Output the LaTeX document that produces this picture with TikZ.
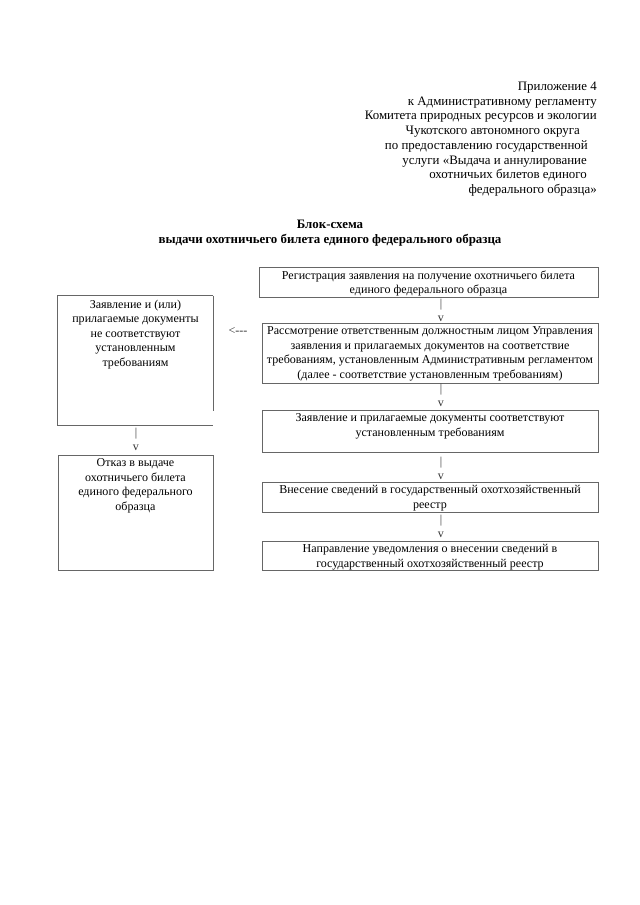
\documentclass[tikz,border=0pt]{standalone}
\usepackage{fontspec}
\setmainfont{Liberation Serif}
\usetikzlibrary{fit}

\tikzset{
  box/.style={draw=black!60, line width=0.7pt, inner sep=0pt, fit={#1}},
  frame/.style={inner sep=0pt, fit={#1}},
  edge/.style={draw=black!60, line width=0.7pt},
  txt/.style={font=\fontsize{12pt}{13.6pt}\selectfont, align=center, inner sep=0pt},
  boxtxt/.style={txt, font=\fontsize{11.2pt}{13.5pt}\selectfont, anchor=north, yshift=-3.5pt},
  head/.style={txt, anchor=base east},
  sign/.style={txt, font=\fontsize{11.2pt}{13.5pt}\selectfont, text=black!80}
}

\begin{document}
\begin{tikzpicture}[x=0.9301pt, y=-0.9301pt]
  \useasboundingbox (0,0) rectangle (640,905);

  % header
  \node[head] (h1) at (597,90) {Приложение 4};
  \node[head] (h2) at (597,105) {к Административному регламенту};
  \node[head] (h3) at (597,119) {Комитета природных ресурсов и экологии};
  \node[head] (h4) at (580,134) {Чукотского автономного округа};
  \node[head] (h5) at (588,149) {по предоставлению государственной};
  \node[head] (h6) at (587,164) {услуги «Выдача и аннулирование};
  \node[head] (h7) at (587,178) {охотничьих билетов единого};
  \node[head] (h8) at (597,193) {федерального образца»};

  % title
  \node[txt, font=\fontsize{12pt}{13.6pt}\selectfont\bfseries] (title) at (330,233)
    {Блок-схема\\выдачи охотничьего билета единого федерального образца};

  % right column
  \node[box={(259,267) (598,297)}] (r1) {};
  \node[boxtxt] (r1t) at (r1.north) {Регистрация заявления на получение охотничьего билета\\единого федерального образца};
  \node[box={(262,323) (598,383)}] (r2) {};
  \node[boxtxt] (r2t) at (r2.north) {Рассмотрение ответственным должностным лицом Управления\\заявления и прилагаемых документов на соответствие\\требованиям, установленным Административным регламентом\\(далее - соответствие установленным требованиям)};
  \node[box={(262,410) (598,452)}] (r3) {};
  \node[boxtxt] (r3t) at (r3.north) {Заявление и прилагаемые документы соответствуют\\установленным требованиям};
  \node[box={(262,482) (598,512)}] (r4) {};
  \node[boxtxt] (r4t) at (r4.north) {Внесение сведений в государственный охотхозяйственный\\реестр};
  \node[box={(262,541) (598,570)}] (r5) {};
  \node[boxtxt] (r5t) at (r5.north) {Направление уведомления о внесении сведений в\\государственный охотхозяйственный реестр};

  % left column
  \node[frame={(58,296) (213,425)}] (l1) {};
  \draw[edge] (l1.north east) -- (l1.north west)
    -- (l1.south west) -- (l1.south east);
  \draw[edge] (l1.north east) -- ([yshift=13pt]l1.south east);
  \node[boxtxt] (l1t) at (l1.north) {Заявление и (или)\\прилагаемые документы\\не соответствуют\\установленным\\требованиям};
  \node[box={(58,455) (213,570)}] (l2) {};
  \node[boxtxt] (l2t) at (l2.north) {Отказ в выдаче\\охотничьего билета\\единого федерального\\образца};

  % text arrows
  \node[sign] (p1) at (441,305) {|};
  \node[sign] (v1) at (441,319) {v};
  \node[sign] (p2) at (441,390) {|};
  \node[sign] (v2) at (441,404) {v};
  \node[sign] (p3) at (441,463) {|};
  \node[sign] (v3) at (441,477) {v};
  \node[sign] (p4) at (441,521) {|};
  \node[sign] (v4) at (441,535) {v};
  \node[sign] (p5) at (136,434) {|};
  \node[sign] (v5) at (136,448) {v};
  \node[sign] (back) at (238,331) {<{-}{-}{-}};
\end{tikzpicture}
\end{document}
